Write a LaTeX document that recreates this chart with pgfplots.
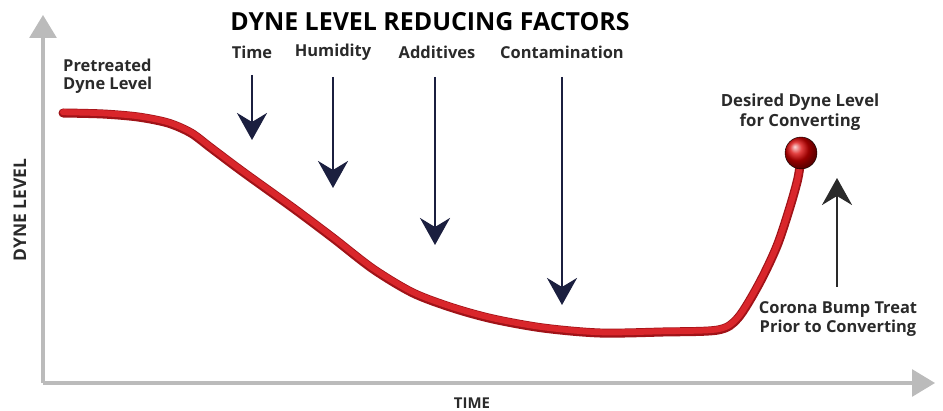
\documentclass[border=0pt]{standalone}
\usepackage{pgfplots}
\pgfplotsset{compat=1.18}
\usepackage{fontspec}
\setmainfont{Open Sans}
\usetikzlibrary{arrows.meta}
\definecolor{axgray}{HTML}{BBBBBB}
\definecolor{navy}{HTML}{1B1F3F}
\definecolor{curvered}{HTML}{D9262B}
\definecolor{darkred}{HTML}{A01318}
\definecolor{txt}{HTML}{2A2A2A}
\pgfplotstableread{
x y
20 270
60 269
95 266
125 260
148 250
168 235
200 211
250 175
290 145
330 114
370 90
410 75
450 64
500 55
557 50
620 51
675 53
695 65
716 99
734 137
747 176
755 205
758 226
}\curvedata
\begin{document}
\begin{tikzpicture}
\begin{axis}[
  width=892bp, height=368bp, scale only axis,
  xmin=0, xmax=892, ymin=0, ymax=368,
  axis lines=left,
  axis line style={-{Triangle[length=23bp,width=27bp]}, line width=3bp, color=axgray},
  xtick=\empty, ytick=\empty,
  clip=false,
]
% reducing-factor arrows
\addplot[navy, line width=2.6bp, -{Stealth[length=27bp,width=30bp,inset=9bp]}] coordinates {(209,308) (209,243)};
\addplot[navy, line width=2.6bp, -{Stealth[length=27bp,width=30bp,inset=9bp]}] coordinates {(290,306) (290,195)};
\addplot[navy, line width=2.6bp, -{Stealth[length=27bp,width=30bp,inset=9bp]}] coordinates {(392,306) (392,138)};
\addplot[navy, line width=2.6bp, -{Stealth[length=27bp,width=30bp,inset=9bp]}] coordinates {(519,306) (519,78)};
% corona arrow
\addplot[txt, line width=2.6bp, -{Stealth[length=27bp,width=30bp,inset=9bp]}] coordinates {(794,96) (794,205)};
% dyne level curve
\addplot[darkred, line width=9bp, smooth, tension=0.5, line cap=round] table[x=x,y=y] {\curvedata};
\addplot[curvered, line width=6bp, smooth, tension=0.5, line cap=round, yshift=0.8bp] table[x=x,y=y] {\curvedata};
\addplot[only marks, mark=ball, mark size=16bp, mark options={ball color=red!85!black}] coordinates {(758,230)};
% texts
\node[font=\fontsize{25}{30}\selectfont\bfseries, text=black] at (axis cs:387,361) {DYNE LEVEL REDUCING FACTORS};
\node[font=\fontsize{16.5}{19}\selectfont\bfseries, text=txt] at (axis cs:209,331) {Time};
\node[font=\fontsize{16.5}{19}\selectfont\bfseries, text=txt] at (axis cs:290,331) {Humidity};
\node[font=\fontsize{16.5}{19}\selectfont\bfseries, text=txt] at (axis cs:394,331) {Additives};
\node[font=\fontsize{16.5}{19}\selectfont\bfseries, text=txt] at (axis cs:519,331) {Contamination};
\node[font=\fontsize{16.5}{18.5}\selectfont\bfseries, text=txt, align=left, anchor=west, inner sep=0pt] at (axis cs:20,307) {Pretreated\\Dyne Level};
\node[font=\fontsize{16.8}{19.5}\selectfont\bfseries, text=txt, align=center, inner sep=0pt] at (axis cs:757,271) {Desired Dyne Level\\for Converting};
\node[font=\fontsize{16.5}{18.5}\selectfont\bfseries, text=txt, align=center, inner sep=0pt] at (axis cs:795,64) {Corona Bump Treat\\Prior to Converting};
\node[font=\fontsize{17.5}{20}\selectfont\bfseries, text=txt, rotate=90] at (axis cs:-23,173) {DYNE LEVEL};
\node[font=\fontsize{15}{18}\selectfont\bfseries, text=txt] at (axis cs:429,-20) {TIME};
\coordinate (bbA) at (axis cs:-43,-28);
\coordinate (bbB) at (axis cs:900,383);
\end{axis}
\pgfresetboundingbox
\path[use as bounding box] (bbA) rectangle (bbB);
\end{tikzpicture}
\end{document}
